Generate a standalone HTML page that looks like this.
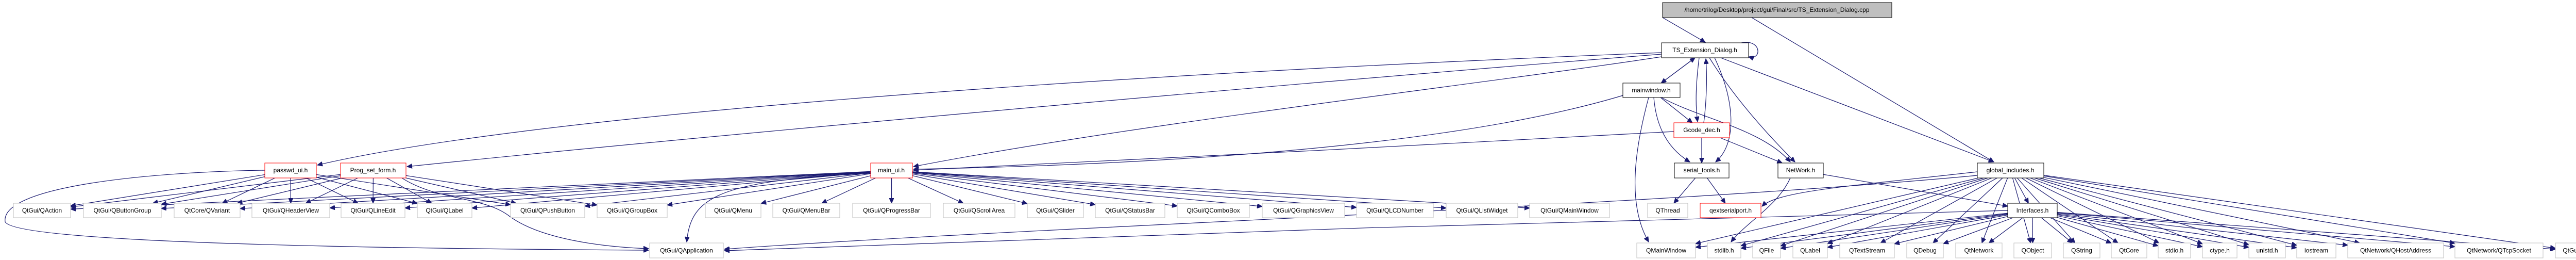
<!DOCTYPE html>
<html><head><meta charset="utf-8"><style>
html,body{margin:0;padding:0;background:#fff;width:5024px;height:504px;overflow:hidden}
svg text{font-family:"Liberation Sans",sans-serif;font-size:12px;fill:#000;text-anchor:middle;dominant-baseline:central}
</style></head><body>
<svg id="g" xmlns="http://www.w3.org/2000/svg" width="5024" height="504" viewBox="0 0 5024 504">
<defs><marker id="a" markerUnits="userSpaceOnUse" markerWidth="11" markerHeight="9" refX="10" refY="4.5" orient="auto"><path d="M0,0 L10,4.5 L0,9 z" fill="#191970" stroke="#191970"/></marker></defs>
<g id="edges" fill="none" stroke="#191970" stroke-width="1.2"></g>
<g id="nodes">
<rect x="3227" y="5" width="445" height="29" fill="#bfbfbf" stroke="#000"/><text x="3449" y="19">/home/trilog/Desktop/project/gui/Final/src/TS_Extension_Dialog.cpp</text>
<rect x="3225" y="83" width="169" height="29" fill="#fff" stroke="#000"/><text x="3309" y="97">TS_Extension_Dialog.h</text>
<rect x="3150" y="161" width="111" height="28" fill="#fff" stroke="#000"/><text x="3205" y="175">mainwindow.h</text>
<rect x="3249" y="238" width="108" height="29" fill="#fff" stroke="#f00"/><text x="3303" y="252">Gcode_dec.h</text>
<rect x="3250" y="316" width="106" height="29" fill="#fff" stroke="#000"/><text x="3303" y="330">serial_tools.h</text>
<rect x="3451" y="316" width="88" height="29" fill="#fff" stroke="#000"/><text x="3495" y="330">NetWork.h</text>
<rect x="3838" y="316" width="129" height="29" fill="#fff" stroke="#000"/><text x="3902" y="330">global_includes.h</text>
<rect x="3897" y="394" width="96" height="28" fill="#fff" stroke="#000"/><text x="3945" y="408">Interfaces.h</text>
<rect x="514" y="316" width="100" height="29" fill="#fff" stroke="#f00"/><text x="564" y="330">passwd_ui.h</text>
<rect x="661" y="316" width="127" height="29" fill="#fff" stroke="#f00"/><text x="724" y="330">Prog_set_form.h</text>
<rect x="1690" y="316" width="81" height="29" fill="#fff" stroke="#f00"/><text x="1730" y="330">main_ui.h</text>
<rect x="3300" y="394" width="118" height="28" fill="#fff" stroke="#f00"/><text x="3359" y="408">qextserialport.h</text>
</g>
<g id="ext"></g>
</svg>
<script>
var N={
"top":[3227,5,3672,34],"ts":[3225,83,3394,112],"mw":[3150,161,3261,189],"gc":[3249,238,3357,267],
"st":[3250,316,3356,345],"nw":[3451,316,3539,345],"gi":[3838,316,3967,345],"if":[3897,394,3993,422],
"pw":[514,316,614,345],"ps":[661,316,788,345],"mu":[1690,316,1771,345],"qx":[3300,394,3418,422]};
var R1=[["QtGui/QAction",26,137],["QtGui/QButtonGroup",162,313],["QtCore/QVariant",338,466],["QtGui/QHeaderView",489,640],["QtGui/QLineEdit",662,786],["QtGui/QLabel",810,916],["QtGui/QPushButton",991,1135],["QtGui/QGroupBox",1159,1295],["QtGui/QMenu",1369,1477],["QtGui/QMenuBar",1500,1630],["QtGui/QProgressBar",1655,1806],["QtGui/QScrollArea",1831,1970],["QtGui/QSlider",1994,2103],["QtGui/QStatusBar",2126,2261],["QtGui/QComboBox",2285,2425],["QtGui/QGraphicsView",2450,2610],["QtGui/QLCDNumber",2633,2782],["QtGui/QListWidget",2807,2946],["QtGui/QMainWindow",2969,3124],["QThread",3198,3276]];
var R2=[["QtGui/QApplication",1261,1404],["QMainWindow",3177,3291],["stdlib.h",3314,3379],["QFile",3402,3456],["QLabel",3480,3547],["QTextStream",3571,3677],["QDebug",3701,3772],["QtNetwork",3796,3886],["QObject",3909,3982],["QString",4005,4076],["QtCore",4098,4167],["stdio.h",4189,4252],["ctype.h",4275,4342],["unistd.h",4365,4436],["iostream",4458,4534],["QtNetwork/QHostAddress",4557,4743],["QtNetwork/QTcpSocket",4765,4936],["QtGui",4960,5020]];
var ns="http://www.w3.org/2000/svg",ext=document.getElementById("ext"),E=document.getElementById("edges");
function mk(t,at,p){var e=document.createElementNS(ns,t);for(var k in at)e.setAttribute(k,at[k]);(p||ext).appendChild(e);return e;}
R1.forEach(function(r){N[r[0]]=[r[1],394,r[2],422];});
R2.forEach(function(r){N[r[0]]=[r[1],471,r[2],500];});
R1.concat(R2).forEach(function(r){var b=N[r[0]];mk("rect",{x:b[0],y:b[1],width:b[2]-b[0],height:b[3]-b[1],fill:"#fff",stroke:"#bfbfbf"});var t=mk("text",{x:(b[0]+b[2])/2,y:(b[1]+b[3])/2});t.textContent=r[0];});
function c(b){return[(b[0]+b[2])/2,(b[1]+b[3])/2];}
function clip(b,px,py){var q=c(b),dx=px-q[0],dy=py-q[1],hw=(b[2]-b[0])/2,hh=(b[3]-b[1])/2;var s=Math.min(dx?hw/Math.abs(dx):1e9,dy?hh/Math.abs(dy):1e9);return[q[0]+dx*s,q[1]+dy*s];}
function e(a,b){var A=N[a],B=N[b],ca=c(A),cb=c(B);var p=clip(A,cb[0],cb[1]),q=clip(B,ca[0],ca[1]);mk("path",{d:"M"+p[0].toFixed(1)+","+p[1].toFixed(1)+" L"+q[0].toFixed(1)+","+q[1].toFixed(1),"marker-end":"url(#a)"},E);}
function P(d){mk("path",{d:d,"marker-end":"url(#a)"},E);}
var PW=["QtGui/QAction","QtGui/QButtonGroup","QtCore/QVariant","QtGui/QHeaderView","QtGui/QLineEdit","QtGui/QLabel","QtGui/QPushButton"];
PW.forEach(function(t){e("pw",t);});
PW.concat(["QtGui/QGroupBox"]).forEach(function(t){e("ps",t);});
R1.slice(0,19).forEach(function(r){e("mu",r[0]);});
P("M514,330 C300,333 0,360 10,430 C30,470 700,482 1259,485");
P("M780,345 C850,390 940,380 990,420 C1060,470 1200,480 1259,482");
P("M1690,336 C1400,350 1340,380 1333,469");
P("M3227,34 L3310,82");P("M3400,34 L3870,314");
P("M3380,83 C3420,75 3420,118 3394,110");
P("M3225,102 C2000,150 1000,230 616,320");P("M3225,105 C2400,170 1300,270 790,323");
P("M3225,110 C2900,160 2200,240 1773,323");P("M3150,185 C2800,290 2200,320 1773,328");
P("M3249,255 C2800,280 2200,310 1773,330");
e("ts","mw");e("mw","ts");P("M3298,112 C3292,160 3290,200 3295,236");P("M3307,238 C3312,200 3314,150 3311,114");
P("M3328,112 C3370,200 3370,280 3330,314");P("M3318,112 C3360,180 3420,250 3484,314");
P("M3340,112 L3870,314");
e("mw","gc");P("M3210,189 C3215,250 3240,290 3280,314");P("M3225,189 C3300,230 3420,250 3475,314");
P("M3200,189 C3170,300 3160,400 3200,469");
e("gc","st");e("gc","nw");e("st","QThread");e("st","qx");
P("M3475,345 C3450,400 3390,430 3360,469");e("nw","if");
var GI=["QMainWindow","stdlib.h","QFile","QLabel","QTextStream","QDebug","QtNetwork","QObject","QString","QtCore","stdio.h","ctype.h","unistd.h","iostream","QtNetwork/QHostAddress","QtNetwork/QTcpSocket","QtGui"];
GI.forEach(function(t){e("gi",t);e("if",t);});
e("gi","if");P("M3838,333 C3600,360 3450,370 3420,400");
P("M3838,340 C3200,400 2000,440 1406,483");P("M3897,408 C3300,420 2000,460 1406,486");
</script>
</body></html>
